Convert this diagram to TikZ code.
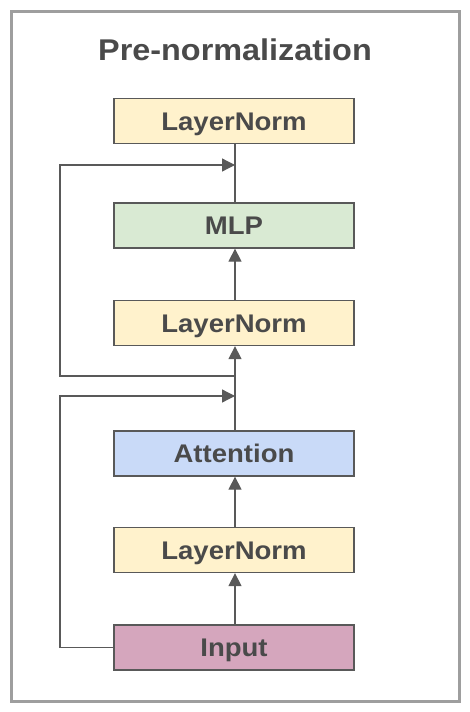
\documentclass[tikz,border=0pt]{standalone}
\usepackage{fontspec}
\setmainfont{Liberation Sans}
\newfontfamily\wideb[FakeStretch=1.08]{Liberation Sans Bold}
\usetikzlibrary{arrows.meta}
\definecolor{lnfill}{HTML}{FFF2CC}
\definecolor{mlpfill}{HTML}{D9EAD3}
\definecolor{attfill}{HTML}{C9DAF8}
\definecolor{inpfill}{HTML}{D5A6BD}
\definecolor{edge}{HTML}{595959}
\definecolor{txt}{HTML}{4A4A4A}
\definecolor{frame}{HTML}{9E9E9E}
\begin{document}
\begin{tikzpicture}[x=1pt,y=-1pt,
  blk/.style={draw=edge,line width=1.3pt,minimum width=240pt,minimum height=45pt,inner sep=0pt,
    text height=18.3pt,text depth=0pt,
    font=\wideb\fontsize{25.5}{28}\selectfont,text=txt},
  conn/.style={draw=edge,line width=1.3pt},
  arr/.style={conn,-{Triangle[length=13pt,width=13pt]}}]
\useasboundingbox (0,0) rectangle (470,712);
\draw[frame,line width=3pt] (11,11) rectangle (459,701);
\node[font=\wideb\fontsize{30}{32}\selectfont,text=txt,anchor=base] (title) at (235,60) {Pre-normalization};
\node[blk,fill=lnfill] (ln3) at (234,121) {LayerNorm};
\node[blk,fill=mlpfill] (mlp) at (234,225.5) {MLP};
\node[blk,fill=lnfill] (ln2) at (234,323) {LayerNorm};
\node[blk,fill=attfill] (att) at (234,453.5) {Attention};
\node[blk,fill=lnfill] (ln1) at (234,550) {LayerNorm};
\node[blk,fill=inpfill] (inp) at (234,647.5) {Input};
\coordinate (j1) at (235,396);
\coordinate (j2) at (235,376);
\coordinate (j3) at (235,165);
\draw[arr] (inp.north -| 235,0) -- (ln1.south -| 235,0);
\draw[arr] (ln1.north -| 235,0) -- (att.south -| 235,0);
\draw[arr] (att.north -| 235,0) -- (ln2.south -| 235,0);
\draw[arr] (ln2.north -| 235,0) -- (mlp.south -| 235,0);
\draw[conn] (mlp.north -| 235,0) -- (ln3.south -| 235,0);
\draw[arr] (inp.west) -- (60,647.5) -- (60,396) -- (j1);
\draw[arr] (j2) -- (60,376) -- (60,165) -- (j3);
\end{tikzpicture}
\end{document}
